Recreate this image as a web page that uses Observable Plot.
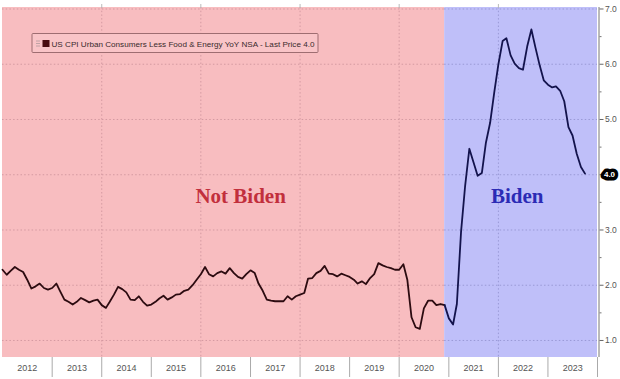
<!DOCTYPE html>
<html><head><meta charset="utf-8">
<script src="https://cdn.jsdelivr.net/npm/d3@7"></script>
<script src="https://cdn.jsdelivr.net/npm/@observablehq/plot@0.6"></script>
<style>
html,body{margin:0;padding:0;background:#fff;}
#chart{width:620px;height:379px;overflow:hidden;}
</style></head><body><div id="chart"></div>
<script>
// ---- data (US core CPI YoY NSA, monthly, from Jan 2012) ----
const startMonth = "2012-01-01";
const cpi2012 = [2.28,2.19,2.26,2.33,2.28,2.24,2.10,1.94,1.98,2.03,1.95,1.92];
const cpi2013 = [1.95,2.03,1.89,1.74,1.70,1.65,1.70,1.77,1.73,1.69,1.72,1.74];
const cpi2014 = [1.64,1.59,1.70,1.83,1.97,1.93,1.87,1.74,1.73,1.80,1.70,1.63];
const cpi2015 = [1.65,1.70,1.76,1.81,1.74,1.78,1.83,1.84,1.90,1.92,2.00,2.10];
const cpi2016 = [2.20,2.33,2.20,2.16,2.22,2.25,2.21,2.31,2.22,2.15,2.12,2.20];
const cpi2017 = [2.27,2.22,2.03,1.90,1.74,1.72,1.71,1.71,1.71,1.80,1.74,1.80];
const cpi2018 = [1.83,1.86,2.12,2.13,2.22,2.26,2.35,2.21,2.20,2.16,2.21,2.18];
const cpi2019 = [2.15,2.10,2.03,2.07,2.02,2.13,2.20,2.40,2.36,2.33,2.31,2.28];
const cpi2020 = [2.28,2.38,2.10,1.42,1.24,1.21,1.58,1.72,1.72,1.64,1.66,1.64];
const cpi2021 = [1.40,1.29,1.66,2.97,3.80,4.47,4.23,3.98,4.03,4.58,4.94,5.48];
const cpi2022 = [6.00,6.42,6.47,6.16,6.01,5.93,5.90,6.32,6.63,6.30,5.98,5.71];
const cpi2023 = [5.63,5.58,5.60,5.52,5.33,4.86,4.71,4.38,4.14,4.02];
const yearLabels = [2012,2013,2014,2015,2016,2017,2018,2019,2020,2021,2022,2023];
const yTicks = [1,2,3,4,5,6,7];
const yMinorTicks = [1.5,2.5,3.5,4.5,5.5,6.5];
const gridYears = [2014,2016,2018,2020,2022];
const bidenStart = "2020-12-01";
const lastPrice = 4.0;
const legendText = "US CPI Urban Consumers Less Food & Energy YoY NSA - Last Price 4.0";
const regionLabels = [
  {label: "Not Biden", date: "2016-10-20", value: 3.48, color: "#c22f3c"},
  {label: "Biden", date: "2022-05-20", value: 3.48, color: "#2b2bb5"}
];

// ---- build ----
const values = [].concat(cpi2012,cpi2013,cpi2014,cpi2015,cpi2016,cpi2017,cpi2018,cpi2019,cpi2020,cpi2021,cpi2022,cpi2023);
const data = values.map((v,i)=>({date: d3.utcMonth.offset(new Date(startMonth), i), value: v}));
const bDate = new Date(bidenStart);
const pinkData = data.filter(d => d.date <= bDate);
const blueData = data.filter(d => d.date >= bDate);
const x0 = new Date(Date.UTC(yearLabels[0],0,1));
const x1 = new Date(Date.UTC(yearLabels[yearLabels.length-1]+1,0,1));
const yearBounds = yearLabels.map(y => new Date(Date.UTC(y+1,0,1)));
const yearMids = yearLabels.map(y => new Date(Date.UTC(y,6,2)));
const gridDates = gridYears.map(y => new Date(Date.UTC(y,0,1)));

const pink = "#f8bdc0", blue = "#bfbff9";
const pinkGrid = "#d49aa1", blueGrid = "#9a9ad6";

const legendMark = (index, scales, values, dims) => {
  const g = d3.create("svg:g");
  g.append("rect").attr("x",32).attr("y",33.5).attr("width",286).attr("height",19)
    .attr("fill","#f9c4c7").attr("stroke","#9e6d71").attr("stroke-width",1).attr("rx",1);
  const ic = g.append("g").attr("stroke","#b09a9c").attr("stroke-width",0.8);
  [41,43.5,46].forEach(yy => ic.append("line").attr("x1",36).attr("x2",40).attr("y1",yy).attr("y2",yy));
  g.append("rect").attr("x",42.5).attr("y",40).attr("width",7).attr("height",7).attr("fill","#4a0c10");
  g.append("text").attr("x",51.5).attr("y",46.5).attr("font-size",8).attr("fill","#3a2a2c")
    .attr("text-anchor","start")
    .attr("font-family","Liberation Sans, Arial, sans-serif")
    .attr("textLength",263).attr("lengthAdjust","spacingAndGlyphs").text(legendText);
  return g.node();
};

const chart = Plot.plot({
  width: 620, height: 379,
  marginTop: 7, marginBottom: 22, marginLeft: 2, marginRight: 23,
  style: {background: "white", fontFamily: "Liberation Sans, Arial, sans-serif", fontSize: "8px", color: "#444"},
  x: {type: "utc", domain: [x0, x1], axis: null},
  y: {domain: [0.692, 7.027], axis: null},
  marks: [
    Plot.rect([{a: x0, b: bDate}], {x1: "a", x2: "b", fill: pink}),
    Plot.rect([{a: bDate, b: x1}], {x1: "a", x2: "b", fill: blue}),
    Plot.ruleY(yTicks, {x1: () => x0, x2: () => bDate, stroke: pinkGrid, strokeDasharray: "1.5,2.2", strokeWidth: 1}),
    Plot.ruleY(yTicks, {x1: () => bDate, x2: () => x1, stroke: blueGrid, strokeDasharray: "1.5,2.2", strokeWidth: 1}),
    Plot.ruleX(gridDates, {stroke: d => d < bDate ? pinkGrid : blueGrid, strokeDasharray: "1.5,2.2", strokeWidth: 1}),
    Plot.axisX({anchor: "top", ticks: gridDates, tickSize: 4, tickFormat: () => "", stroke: "#bbb", label: null}),
    Plot.axisX({anchor: "bottom", ticks: yearBounds, tickSize: 20, tickFormat: () => "", stroke: "#aaa", label: null}),
    Plot.axisX({anchor: "bottom", ticks: yearMids, tickSize: 0, tickPadding: 7.5, tickFormat: d => String(d.getUTCFullYear()), fontSize: 9, fill: "#555", label: null}),
    Plot.ruleX([x1], {dx: 1.5, stroke: "#777", strokeWidth: 1}),
    Plot.axisY({anchor: "right", ticks: yTicks, tickSize: 4, tickPadding: 2, tickFormat: d => d === lastPrice ? "" : d3.format(".1f")(d), fontSize: 8.5, dx: 1.5, stroke: "#666", fill: "#555", label: null}),
    Plot.axisY({anchor: "right", ticks: yMinorTicks, tickSize: 2, tickFormat: () => "", dx: 1.5, stroke: "#777", label: null}),
    Plot.line(pinkData, {x: "date", y: "value", stroke: "#2c0b10", strokeWidth: 1.8, curve: "linear", strokeLinejoin: "round"}),
    Plot.line(blueData, {x: "date", y: "value", stroke: "#13134c", strokeWidth: 1.8, curve: "linear", strokeLinejoin: "round"}),
    Plot.text(regionLabels, {x: d => new Date(d.date), y: "value", text: "label", fill: "color", fontSize: 21, fontWeight: "bold", fontFamily: "Liberation Serif, Times New Roman, serif", lineAnchor: "bottom"}),
    Plot.text([lastPrice], {x: () => x1, y: d => d, text: d => d3.format(".1f")(d), dx: 12, fill: "white", stroke: "black", strokeWidth: 7, strokeLinejoin: "round", fontSize: 8, fontWeight: "bold"}),
    legendMark
  ]
});
document.getElementById("chart").appendChild(chart);
</script></body></html>
